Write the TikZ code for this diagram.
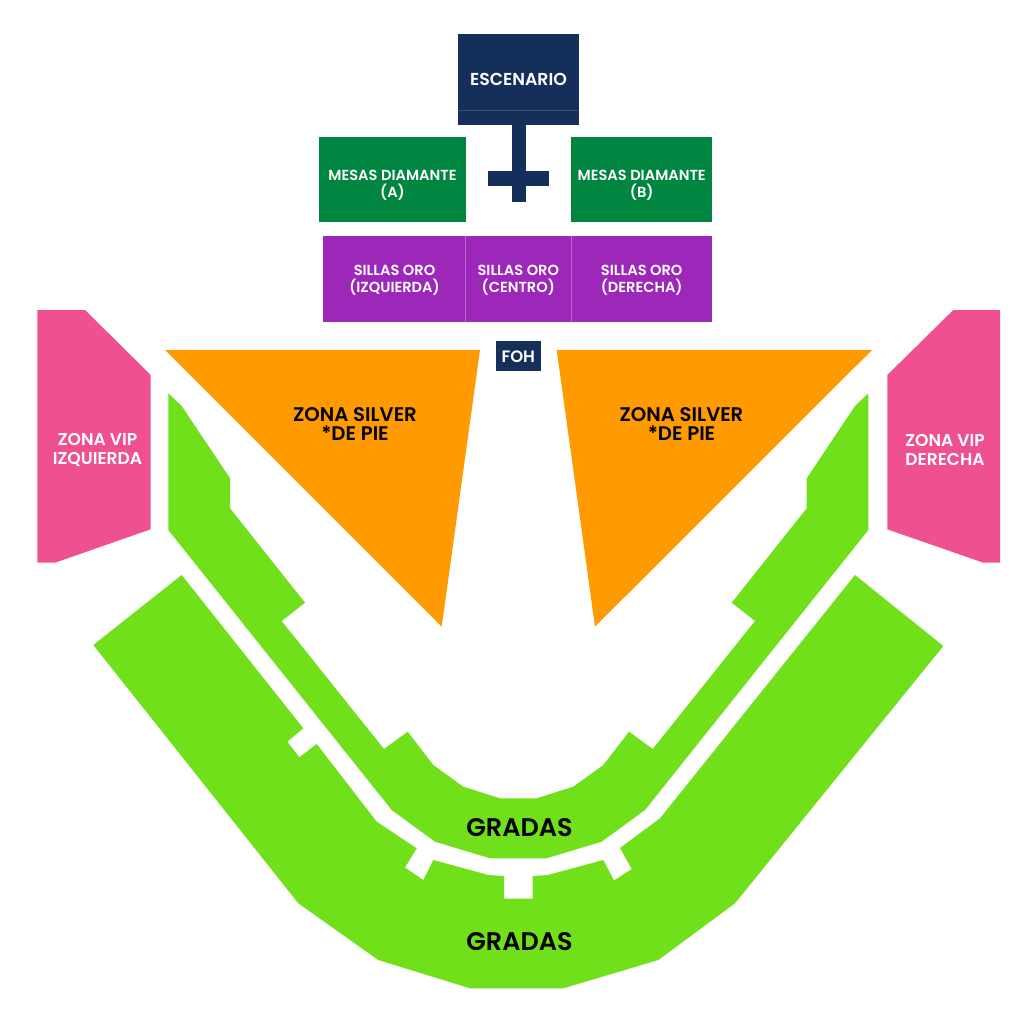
\documentclass[tikz,border=0pt]{standalone}
\usepackage{fontspec}
\setmainfont{Poppins}[UprightFont={* Medium},BoldFont={* SemiBold}]
\definecolor{navy}{HTML}{152F5B}
\definecolor{mesa}{HTML}{008641}
\definecolor{oro}{HTML}{9C27B9}
\definecolor{silver}{HTML}{FF9A00}
\definecolor{vip}{HTML}{EF5190}
\definecolor{grada}{HTML}{70E01B}
\tikzset{
  wlabel/.style={text=white,align=center,font=\bfseries\fontsize{14.6}{16.8}\selectfont},
  blabel/.style={text=black,align=center,font=\bfseries\fontsize{19.7}{19.6}\selectfont},
  glabel/.style={text=black,font=\bfseries\fontsize{25.5}{30}\selectfont},
}
\begin{document}
\begin{tikzpicture}[x=1pt,y=-1pt]
\useasboundingbox (0,0) rectangle (1024,1024);
\fill[white] (0,0) rectangle (1024,1024);
% stage
\fill[navy] (457.7,34.3) rectangle (579.3,125);
\draw[navy!85!white,line width=0.5pt] (457.7,110) -- (579.3,110);
\fill[navy] (511.7,124) rectangle (526,201.7);
\fill[navy] (488.3,171) rectangle (549,186);
\node[wlabel,font=\bfseries\fontsize{17.3}{18}\selectfont] (esc) at (518.5,79.5) {ESCENARIO};
% mesas diamante
\fill[mesa] (319.3,137.3) rectangle (465.7,221.7);
\fill[mesa] (571,137.3) rectangle (712.3,221.7);
\node[wlabel] (mesaA) at (392.5,185) {MESAS DIAMANTE\\(A)};
\node[wlabel] (mesaB) at (641.7,185) {MESAS DIAMANTE\\(B)};
% sillas oro
\fill[oro] (323.3,235.7) rectangle (712.3,322.3);
\draw[oro!70!white,line width=0.5pt] (465.7,235.7) -- (465.7,322.3) (571,235.7) -- (571,322.3);
\node[wlabel] (oroI) at (394.5,280.5) {SILLAS ORO\\(IZQUIERDA)};
\node[wlabel] (oroC) at (518.3,280.5) {SILLAS ORO\\(CENTRO)};
\node[wlabel] (oroD) at (641.7,280.5) {SILLAS ORO\\(DERECHA)};
% FOH
\fill[navy] (496,341) rectangle (540.7,370.7);
\node[text=white,font=\bfseries\fontsize{16.5}{18}\selectfont] (foh) at (518.3,356.5) {FOH};
% zona silver
\fill[silver] (165,350) -- (480,350) -- (441.7,626.7) -- cycle;
\fill[silver] (556.7,350) -- (872,350) -- (595,626.7) -- cycle;
\node[blabel] (silL) at (355,424) {ZONA SILVER\\*DE PIE};
\node[blabel] (silR) at (681.5,424) {ZONA SILVER\\*DE PIE};
% VIP
\fill[vip] (37.3,310) -- (85,310) -- (150.7,375) -- (150.7,529.3) -- (55,562.7) -- (37.3,562.7) -- cycle;
\fill[vip] (1000,310) -- (953.3,310) -- (887.3,375) -- (887.3,529.3) -- (983.3,562.7) -- (1000,562.7) -- cycle;
\node[wlabel,font=\bfseries\fontsize{17.1}{19.6}\selectfont] (vipL) at (97.5,450) {ZONA VIP\\IZQUIERDA};
\node[wlabel,font=\bfseries\fontsize{17.1}{19.6}\selectfont] (vipR) at (945,450) {ZONA VIP\\DERECHA};
% inner gradas
\fill[grada] (168.3,393.3) -- (181.7,406) -- (230,478.3) -- (230,508.3) -- (305,602.7) -- (281.7,621)
  -- (384,749) -- (407.7,731.7) -- (433.3,765) -- (463.3,786.7) -- (500,798.3)
  -- (536.6,798.3) -- (573.3,786.7) -- (603.3,765) -- (629,731.7) -- (652.7,749)
  -- (755,621) -- (731.7,602.7) -- (806.7,508.3) -- (806.7,478.3) -- (855,406) -- (868.3,393.3)
  -- (868.3,530) -- (645,810) -- (601.6,841.7) -- (546.6,858.3) -- (490,858.3) -- (435,841.7)
  -- (391.7,810) -- (168.3,530) -- cycle;
% outer gradas
\fill[grada] (181.7,575) -- (303.3,728.3) -- (287.3,741.7) -- (299.3,757.3) -- (316.7,744)
  -- (376.7,821.7) -- (416.7,848.3) -- (405,867.5) -- (423.3,880) -- (433.3,860) -- (488.3,875)
  -- (504,876) -- (504,898.7) -- (532.6,898.7) -- (532.6,876) -- (548,875) -- (603.3,860)
  -- (614,880.5) -- (631.7,869) -- (620,848) -- (660,818.3) -- (855,575) -- (943.3,646)
  -- (735,903.3) -- (658.3,960) -- (563.3,988.3) -- (470,988.3) -- (378.3,960) -- (298.3,903.3)
  -- (93.3,645) -- cycle;
\node[glabel] (gr1) at (519.5,827.5) {GRADAS};
\node[glabel] (gr2) at (519.5,942) {GRADAS};
\end{tikzpicture}
\end{document}
